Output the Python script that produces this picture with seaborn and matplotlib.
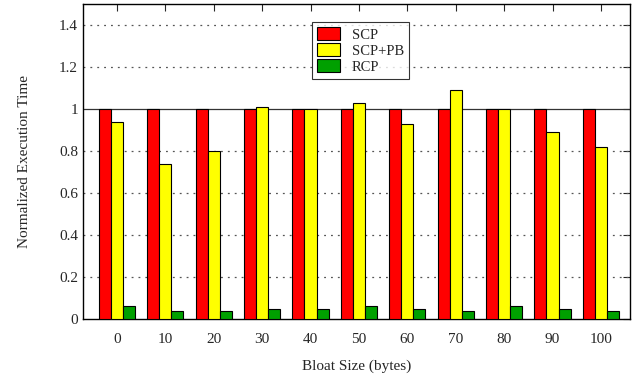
import numpy as np
import pandas as pd
import matplotlib
matplotlib.use('Agg')
import matplotlib.pyplot as plt
import seaborn as sns

bloat_sizes = ['0', '10', '20', '30', '40', '50', '60', '70', '80', '90', '100']
scp = [1.0, 1.0, 1.0, 1.0, 1.0, 1.0, 1.0, 1.0, 1.0, 1.0, 1.0]
scp_pb = [0.94, 0.74, 0.80, 1.01, 1.00, 1.03, 0.93, 1.09, 1.00, 0.89, 0.82]
rcp = [0.06, 0.04, 0.04, 0.05, 0.05, 0.06, 0.05, 0.04, 0.06, 0.05, 0.04]
series = ['SCP', 'SCP+PB', 'RCP']
colors = ['#ff0000', '#ffff00', '#00a000']

df = pd.DataFrame({
    'size': bloat_sizes * 3,
    'value': scp + scp_pb + rcp,
    'scheme': [s for s in series for _ in bloat_sizes],
})

sns.set_style('white')
plt.rcParams['font.family'] = ['Liberation Serif', 'DejaVu Serif']

fig = plt.figure(figsize=(6.32, 3.77), dpi=100)
ax = fig.add_axes([83 / 632, 1 - 319 / 377, 547 / 632, 315 / 377])

sns.barplot(data=df, x='size', y='value', hue='scheme', palette=colors,
            width=0.75, edgecolor='black', linewidth=0.8, saturation=1,
            ax=ax, zorder=3)

ax.set_ylim(0, 1.5)
ax.set_xlim(-0.7, 10.6)
ax.set_yticks([0, 0.2, 0.4, 0.6, 0.8, 1, 1.2, 1.4])
ax.set_yticklabels(['0', '0.2', '0.4', '0.6', '0.8', '1', '1.2', '1.4'])
for y in [0.2, 0.4, 0.6, 0.8, 1.2, 1.4]:
    ax.axhline(y, color='#555555', linestyle=(0, (1.5, 4)), linewidth=0.9, zorder=1)
ax.axhline(1.0, color='#333333', linewidth=0.9, zorder=1)

ax.tick_params(axis='both', direction='in', labelsize=11, length=5, width=0.8,
               top=True, right=True, bottom=False)
ax.tick_params(axis='x', pad=10)
for sp in ax.spines.values():
    sp.set_color('black')
    sp.set_linewidth(1.0)

ax.set_xlabel('Bloat Size (bytes)', fontsize=11, labelpad=10)
ax.set_ylabel('Normalized Execution Time', fontsize=11, labelpad=20)

leg = ax.legend(loc='upper left', bbox_to_anchor=(0.405, 0.965), fontsize=10.5,
                frameon=True, fancybox=False, edgecolor='black',
                handlelength=1.6, handleheight=1.0, borderpad=0.35,
                labelspacing=0.1, handletextpad=0.8)
leg.get_frame().set_linewidth(0.8)

fig.savefig('out.png', dpi=100)
